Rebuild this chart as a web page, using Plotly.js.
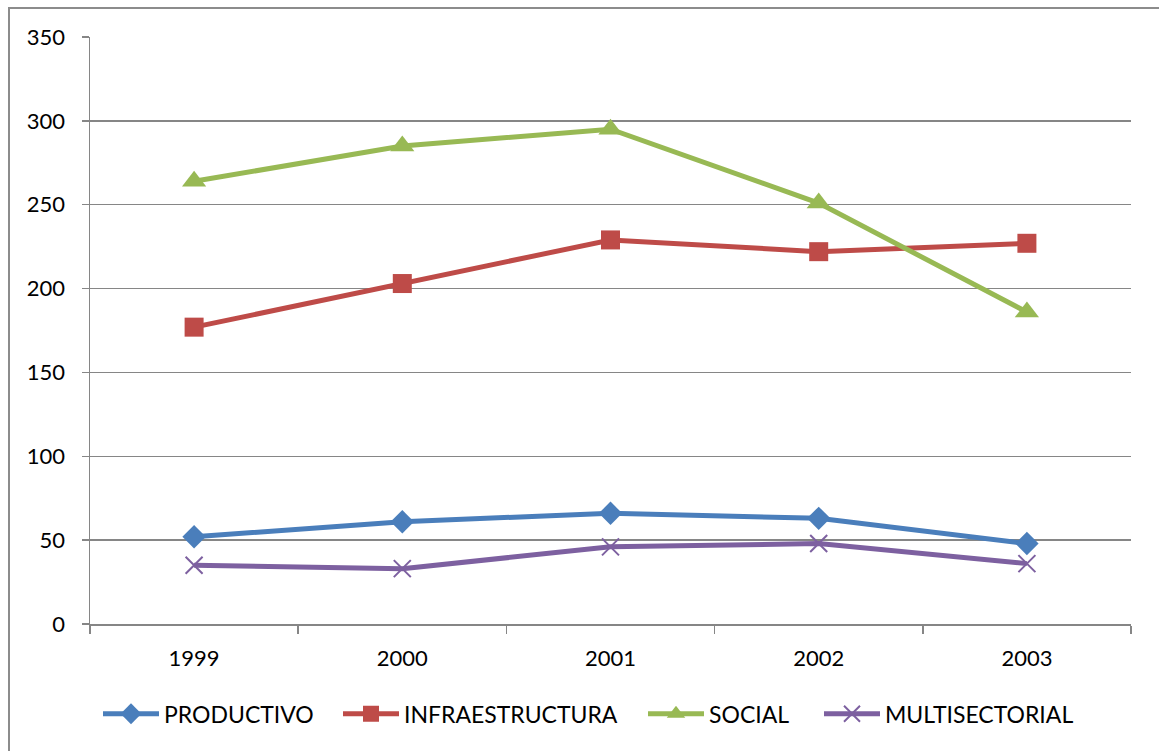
<!DOCTYPE html>
<html>
<head>
<meta charset="utf-8">
<script src="https://cdn.plot.ly/plotly-3.0.1.min.js"></script>
<style>
  html, body { margin: 0; padding: 0; width: 1159px; height: 751px; overflow: hidden; background: #fff; }
  #chart { position: absolute; left: 0; top: 0; width: 1159px; height: 751px; }
  #frame { position: absolute; left: 8px; top: 7px; width: 1200px; height: 800px; border: 2px solid #8c8c8c; pointer-events: none; }
</style>
</head>
<body>
<div id="chart"></div>
<div id="frame"></div>
<script>
const years = ['1999', '2000', '2001', '2002', '2003'];
const productivo = [52, 61, 66, 63, 48];
const infraestructura = [177, 203, 229, 222, 227];
const social = [264, 285, 295, 251, 186];
const multisectorial = [35, 33, 46, 48, 36];
const yTicks = [0, 50, 100, 150, 200, 250, 300, 350];

const font = 'Lato, "Open Sans", "Liberation Sans", sans-serif';

const seriesDefs = [
  { name: 'PRODUCTIVO', y: productivo, color: '#4A7EBB', symbol: 'diamond', size: 18, legend: 'legend' },
  { name: 'INFRAESTRUCTURA', y: infraestructura, color: '#BE4B48', symbol: 'square', size: 19, legend: 'legend2' },
  { name: 'SOCIAL', y: social, color: '#98B954', symbol: 'triangle-up', size: 21, legend: 'legend3' },
  { name: 'MULTISECTORIAL', y: multisectorial, color: '#7D60A0', symbol: 'x-thin', size: 17, legend: 'legend4' }
];

const traces = seriesDefs.map(s => ({
  type: 'scatter',
  mode: 'lines+markers',
  x: years,
  y: s.y,
  name: s.name,
  legend: s.legend,
  line: { color: s.color, width: 5 },
  marker: {
    symbol: s.symbol,
    size: s.size,
    color: s.color,
    line: { color: s.color, width: s.symbol === 'x-thin' ? 2 : 0 }
  }
}));

// legend left edges in pixels (plot area spans 90..1131)
const legendPx = [98, 338, 643, 819];
function legendCfg(px) {
  return {
    orientation: 'h',
    x: (px - 90) / 1041, xanchor: 'left',
    y: -0.153, yanchor: 'middle',
    font: { family: font, size: 23, color: '#000000' },
    itemwidth: 56,
    bgcolor: 'rgba(0,0,0,0)'
  };
}

const layout = {
  width: 1159,
  height: 751,
  paper_bgcolor: '#ffffff',
  plot_bgcolor: '#ffffff',
  margin: { l: 90, r: 28, t: 37, b: 127 },
  font: { family: font, size: 22, color: '#000000' },
  showlegend: true,
  legend: legendCfg(legendPx[0]),
  legend2: legendCfg(legendPx[1]),
  legend3: legendCfg(legendPx[2]),
  legend4: legendCfg(legendPx[3]),
  xaxis: {
    type: 'category',
    range: [-0.5, 4.5],
    tickson: 'boundaries',
    ticks: 'outside',
    ticklen: 8,
    tickwidth: 1.5,
    tickcolor: '#868686',
    showline: true,
    linecolor: '#868686',
    linewidth: 1.5,
    showgrid: false,
    zeroline: false,
    tickfont: { family: font, size: 22, color: '#000000' },
    ticklabelstandoff: 14,
    fixedrange: true
  },
  yaxis: {
    range: [0, 350],
    tickvals: yTicks,
    ticktext: yTicks.map(String),
    ticks: 'outside',
    ticklen: 7,
    tickwidth: 1.5,
    tickcolor: '#868686',
    showline: true,
    linecolor: '#868686',
    linewidth: 1.5,
    showgrid: true,
    gridcolor: '#868686',
    gridwidth: 1.5,
    zeroline: false,
    tickfont: { family: font, size: 22, color: '#000000' },
    ticklabelstandoff: 12,
    fixedrange: true
  }
};

Plotly.newPlot('chart', traces, layout, { displayModeBar: false, staticPlot: true });
</script>
</body>
</html>
